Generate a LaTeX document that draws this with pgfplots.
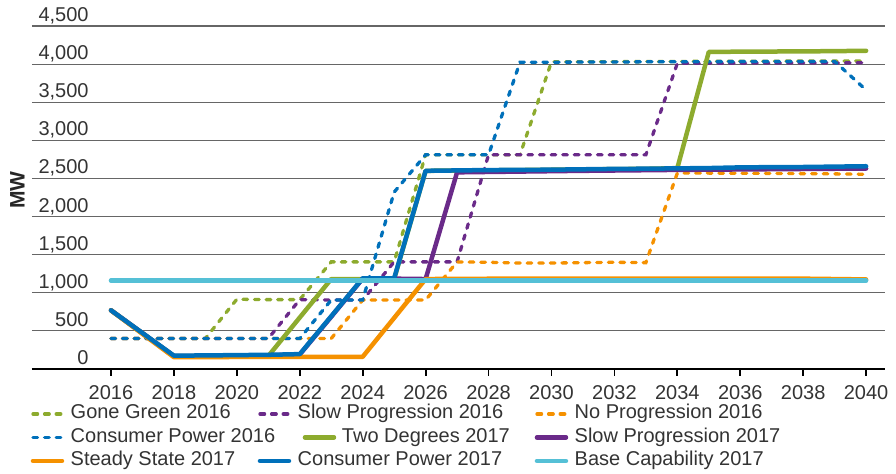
\documentclass[border=0pt]{standalone}
\usepackage{fontspec}
\setmainfont{Liberation Sans}
\usepackage{pgfplots}
\pgfplotsset{compat=1.18}

\definecolor{ggreen}{RGB}{141,171,46}
\definecolor{ppurple}{RGB}{106,42,137}
\definecolor{oorange}{RGB}{245,145,0}
\definecolor{bblue}{RGB}{0,112,186}
\definecolor{lblue}{RGB}{85,192,214}

\newcommand{\lfont}{\fontsize{10}{12}\selectfont}

\pgfplotsset{
  dashedline/.style={line width=1.65pt, line cap=round, dash pattern=on 2.3pt off 3.5pt},
  solidline/.style={line width=2.25pt, line cap=round, line join=round},
  shiftedlegend/.style={legend image code/.code={\path[draw=none,fill=none] (0pt,-3pt) rectangle (18.85pt,3pt); \draw[##1,overlay] (22.5pt,0pt) -- (37pt,0pt);}},
}

\begin{document}
\begin{tikzpicture}
\useasboundingbox (-16pt,-52.5pt) rectangle (432pt,184.5pt);
\begin{axis}[
  at={(0pt,0pt)}, anchor=south west,
  scale only axis, width=426.5pt, height=171.5pt,
  xmin=2013.49, xmax=2040.6, ymin=0, ymax=4500,
  axis x line*=bottom, axis y line*=left,
  x axis line style={black, line width=1pt},
  y axis line style={draw=none},
  xtick={2016,2018,...,2040}, ytick={0,500,...,4500},
  tick align=outside, major tick length=3.5pt,
  x tick style={black, line width=0.9pt},
  y tick style={draw=none},
  ymajorgrids, major grid style={black!60, line width=0.6pt},
  tick label style={font=\lfont, text=black!80, /pgf/number format/assume math mode=true},
  x tick label style={/pgf/number format/1000 sep={}, anchor=north, inner sep=0pt, yshift=-4.75pt},
  y tick label style={/pgf/number format/1000 sep={,}, anchor=base east, inner sep=0pt, xshift=32pt, yshift=2.25pt},
  ylabel={\bfseries MW},
  ylabel style={font=\fontsize{10.5}{12}\selectfont, at={(axis description cs:-0.017,0.522)}, anchor=center, text=black!85},
  legend columns=3, legend cell align=left,
  legend style={at={(axis description cs:0,0)}, anchor=north west, xshift=0.5pt, yshift=-18pt,
    draw=none, fill=none, inner sep=0pt, outer sep=0pt, row sep=2.75pt, column sep=0pt,
    nodes={inner sep=0pt, text height=7pt, text depth=2pt, font=\lfont, text=black!80}},
  legend image code/.code={\path[draw=none,fill=none] (0pt,-3pt) rectangle (18.85pt,3pt); \draw[#1,overlay] (0pt,0pt) -- (14.5pt,0pt);},
]

% Gone Green 2016
\addplot[dashedline, ggreen] coordinates {
 (2016,400)(2017,400)(2018,400)(2019,400)(2020,915)(2021,910)(2022,910)(2023,1405)
 (2024,1405)(2025,1405)(2026,2810)(2027,2810)(2028,2810)(2029,2810)(2030,4030)(2031,4030)
 (2032,4032)(2033,4033)(2034,4035)(2035,4036)(2036,4037)(2037,4038)(2038,4040)(2039,4040)(2040,4042)};
\addlegendentry{\makebox[94.65pt][l]{Gone Green 2016}}

% Slow Progression 2016
\addplot[dashedline, ppurple] coordinates {
 (2016,400)(2017,400)(2018,400)(2019,400)(2020,400)(2021,400)(2022,910)(2023,905)
 (2024,905)(2025,1405)(2026,1405)(2027,1405)(2028,2810)(2029,2810)(2030,2810)(2031,2810)
 (2032,2810)(2033,2810)(2034,4010)(2035,4012)(2036,4013)(2037,4014)(2038,4015)(2039,4015)(2040,4018)};
\addlegendentry{\makebox[119.65pt][l]{Slow Progression 2016}}

% No Progression 2016
\addplot[dashedline, oorange] coordinates {
 (2016,400)(2017,400)(2018,400)(2019,400)(2020,400)(2021,400)(2022,400)(2023,400)
 (2024,905)(2025,905)(2026,905)(2027,1405)(2028,1400)(2029,1390)(2030,1390)(2031,1395)
 (2032,1400)(2033,1395)(2034,2570)(2035,2570)(2036,2568)(2037,2566)(2038,2563)(2039,2560)(2040,2555)};
\addlegendentry{No Progression 2016}

% Consumer Power 2016
\addplot[dashedline, bblue] coordinates {
 (2016,400)(2017,400)(2018,400)(2019,400)(2020,400)(2021,400)(2022,400)(2023,905)
 (2024,905)(2025,2320)(2026,2810)(2027,2810)(2028,2810)(2029,4025)(2030,4025)(2031,4027)
 (2032,4028)(2033,4030)(2034,4030)(2035,4032)(2036,4033)(2037,4034)(2038,4035)(2039,4035)(2040,3660)};
\addlegendentry{\makebox[94.65pt][l]{Consumer Power 2016}}

% Two Degrees 2017
\addplot[solidline, ggreen, shiftedlegend] coordinates {
 (2016,770)(2017,470)(2018,170)(2019,170)(2020,170)(2021,170)(2022,675)(2023,1180)
 (2024,1180)(2025,1180)(2026,2600)(2027,2603)(2028,2606)(2029,2610)(2030,2614)(2031,2618)
 (2032,2622)(2033,2626)(2034,2635)(2035,4160)(2036,4163)(2037,4165)(2038,4167)(2039,4170)(2040,4175)};
\addlegendentry{\makebox[119.65pt][l]{\hspace*{22.15pt}Two Degrees 2017}}

% Slow Progression 2017
\addplot[solidline, ppurple] coordinates {
 (2016,770)(2017,470)(2018,170)(2019,170)(2020,175)(2021,180)(2022,190)(2023,685)
 (2024,1185)(2025,1185)(2026,1180)(2027,2580)(2028,2585)(2029,2590)(2030,2595)(2031,2600)
 (2032,2604)(2033,2608)(2034,2612)(2035,2615)(2036,2618)(2037,2621)(2038,2624)(2039,2627)(2040,2630)};
\addlegendentry{Slow Progression 2017}

% Steady State 2017
\addplot[solidline, oorange] coordinates {
 (2016,770)(2017,460)(2018,155)(2019,155)(2020,158)(2021,160)(2022,160)(2023,160)
 (2024,160)(2025,670)(2026,1180)(2027,1182)(2028,1184)(2029,1185)(2030,1186)(2031,1186)
 (2032,1186)(2033,1186)(2034,1186)(2035,1186)(2036,1186)(2037,1186)(2038,1185)(2039,1180)(2040,1175)};
\addlegendentry{\makebox[94.65pt][l]{Steady State 2017}}

% Consumer Power 2017
\addplot[solidline, bblue] coordinates {
 (2016,770)(2017,472)(2018,175)(2019,178)(2020,182)(2021,186)(2022,195)(2023,692)
 (2024,1190)(2025,1190)(2026,2600)(2027,2605)(2028,2610)(2029,2612)(2030,2615)(2031,2620)
 (2032,2625)(2033,2628)(2034,2632)(2035,2636)(2036,2645)(2037,2648)(2038,2650)(2039,2655)(2040,2660)};
\addlegendentry{\makebox[119.65pt][l]{Consumer Power 2017}}

% Base Capability 2017
\addplot[solidline, lblue] coordinates {
 (2016,1160)(2020,1160)(2024,1160)(2028,1160)(2032,1160)(2036,1160)(2040,1160)};
\addlegendentry{Base Capability 2017}

\end{axis}
\end{tikzpicture}
\end{document}
